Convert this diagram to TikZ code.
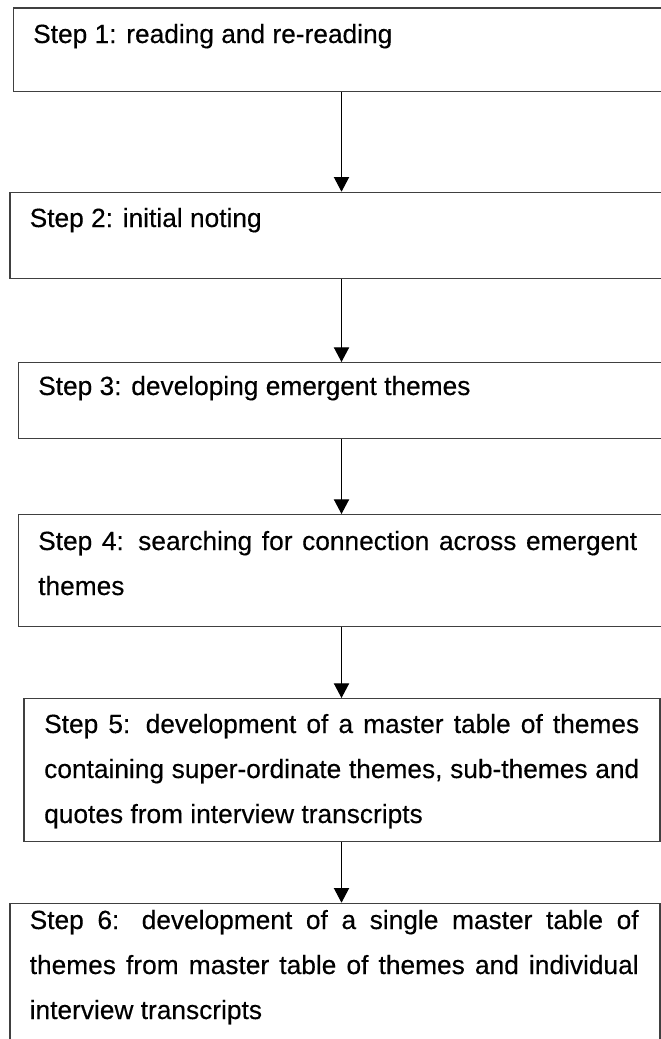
\documentclass[tikz,border=0pt]{standalone}
\usepackage{fontspec}
\setmainfont{Liberation Sans}[FakeBold=0.3]
\usetikzlibrary{arrows.meta}

% Flow of the six analysis steps (coordinates in points, y pointing down)
\tikzset{
  stepbox/.style={draw=black!75, line width=1.3pt, rectangle, inner sep=0pt,
                  anchor=north west},
  steptext/.style={anchor=base west, inner sep=0pt, text=black,
                   font=\fontsize{26.3}{45}\selectfont},
  flow/.style={draw=black, line width=1pt,
               -{Triangle[length=14.7pt, width=15.3pt]}},
}

\newcommand{\fillline}[2]{\makebox[#1][s]{#2}}

\begin{document}
\begin{tikzpicture}[x=1pt, y=-1pt]
  \useasboundingbox (0,0) rectangle (661,1039);
  \fill[white] (0,0) rectangle (661,1039);

  \begin{scope}
    \clip (0,0) rectangle (661,1039);

    % boxes
    \node[stepbox, minimum width=667pt, minimum height=83.7pt]  (b1) at (12.6,7.3)   {};
    \node[stepbox, minimum width=671pt, minimum height=86pt]    (b2) at (9.3,191.7)  {};
    \node[stepbox, minimum width=662pt, minimum height=75.7pt]  (b3) at (17.7,362)   {};
    \node[stepbox, minimum width=662pt, minimum height=111.7pt] (b4) at (17.5,514)   {};
    \node[stepbox, minimum width=636pt, minimum height=143pt]   (b5) at (23.3,698)   {};
    \node[stepbox, minimum width=650pt, minimum height=160pt]   (b6) at (9.3,902.7)  {};

    % texts
    \node[steptext] (t1) at (33,43)    {Step 1: reading and re-reading};
    \node[steptext] (t2) at (29.5,227) {Step 2: initial noting};
    \node[steptext] (t3) at (38,395)   {Step 3: developing emergent themes};
    \node[steptext] (t4) at (38,550)   {\begin{tabular}[t]{@{}l@{}}
        \fillline{599pt}{Step 4: searching for connection across emergent}\\
        themes\end{tabular}};
    \node[steptext] (t5) at (44,733)   {\begin{tabular}[t]{@{}l@{}}
        \fillline{595pt}{Step 5: development of a master table of themes}\\
        \fillline{595pt}{containing super-ordinate themes, sub-themes and}\\
        quotes from interview transcripts\end{tabular}};
    \node[steptext] (t6) at (29.5,929) {\begin{tabular}[t]{@{}l@{}}
        \fillline{609pt}{Step 6: development of a single master table of}\\
        \fillline{609pt}{themes from master table of themes and individual}\\
        interview transcripts\end{tabular}};

    % connectors
    \coordinate (ax) at (341.5,0);
    \draw[flow] (b1.south -| ax) -- (b2.north -| ax);
    \draw[flow] (b2.south -| ax) -- (b3.north -| ax);
    \draw[flow] (b3.south -| ax) -- (b4.north -| ax);
    \draw[flow] (b4.south -| ax) -- (b5.north -| ax);
    \draw[flow] (b5.south -| ax) -- (b6.north -| ax);
  \end{scope}
\end{tikzpicture}
\end{document}
